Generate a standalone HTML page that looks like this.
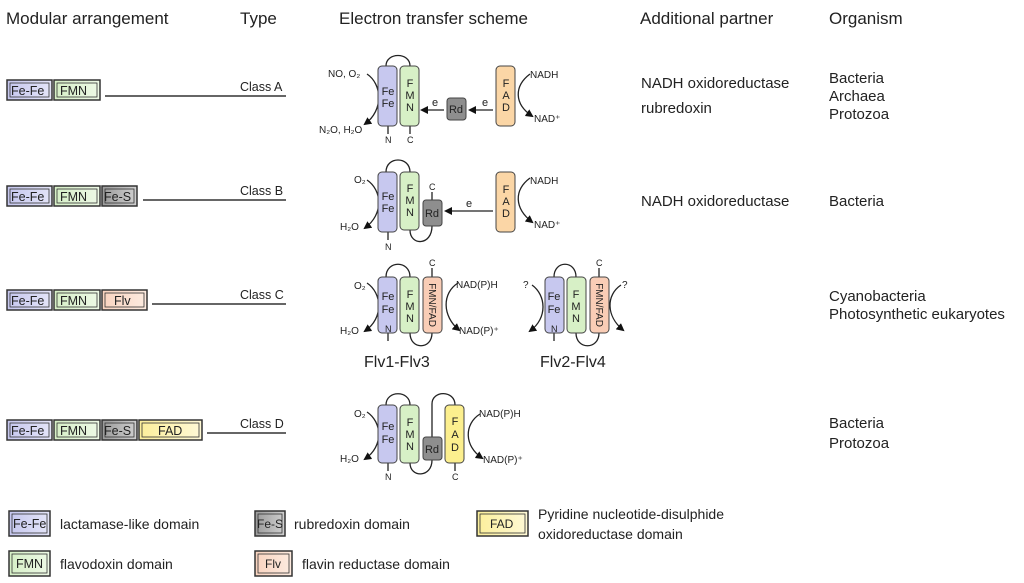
<!DOCTYPE html>
<html><head><meta charset="utf-8"><style>
body{margin:0;background:#fff}
svg{display:block;font-family:"Liberation Sans",sans-serif}
.h{font-size:17px;fill:#222}
.c{font-family:"Liberation Sans",sans-serif;font-size:12.5px;fill:#222}
.t{font-size:15px;fill:#222}
.s{font-size:9px;fill:#222}
.d{font-size:11px;fill:#222}
</style></head><body>
<svg width="1024" height="583" viewBox="0 0 1024 583" xmlns="http://www.w3.org/2000/svg">
<defs>
<linearGradient id="gb" x1="0" x2="1"><stop offset="0" stop-color="#c5c6ee"/><stop offset="1" stop-color="#e4e5f8"/></linearGradient>
<linearGradient id="gg" x1="0" x2="1"><stop offset="0" stop-color="#d5efc6"/><stop offset="1" stop-color="#eef9e6"/></linearGradient>
<linearGradient id="gs" x1="0" x2="1"><stop offset="0" stop-color="#9a9a9a"/><stop offset="1" stop-color="#d0d0d0"/></linearGradient>
<linearGradient id="go" x1="0" x2="1"><stop offset="0" stop-color="#f9d3bf"/><stop offset="1" stop-color="#fdebe0"/></linearGradient>
<linearGradient id="gy" x1="0" x2="1"><stop offset="0" stop-color="#fbef9a"/><stop offset="1" stop-color="#fff9d6"/></linearGradient>
<marker id="ar" markerWidth="8" markerHeight="8" refX="6" refY="4" orient="auto" markerUnits="userSpaceOnUse"><path d="M0,0 L8,4 L0,8 z" fill="#111"/></marker>
</defs>

<text x="6" y="24" class="h">Modular arrangement</text>
<text x="240" y="24" class="h">Type</text>
<text x="339" y="24" class="h">Electron transfer scheme</text>
<text x="640" y="24" class="h">Additional partner</text>
<text x="829" y="24" class="h">Organism</text>

<g stroke="#333" stroke-width="1.5">
<rect x="7" y="80" width="45" height="20" fill="url(#gb)"/><rect x="10" y="83" width="39" height="14" fill="none" stroke-width="0.8"/>
<rect x="54" y="80" width="46" height="20" fill="url(#gg)"/><rect x="57" y="83" width="40" height="14" fill="none" stroke-width="0.8"/>
<line x1="105" y1="96" x2="286" y2="96"/>
<rect x="7" y="186" width="45" height="20" fill="url(#gb)"/><rect x="10" y="189" width="39" height="14" fill="none" stroke-width="0.8"/>
<rect x="54" y="186" width="46" height="20" fill="url(#gg)"/><rect x="57" y="189" width="40" height="14" fill="none" stroke-width="0.8"/>
<rect x="102" y="186" width="35" height="20" fill="url(#gs)"/><rect x="105" y="189" width="29" height="14" fill="none" stroke-width="0.8"/>
<line x1="143" y1="200" x2="286" y2="200"/>
<rect x="7" y="290" width="45" height="20" fill="url(#gb)"/><rect x="10" y="293" width="39" height="14" fill="none" stroke-width="0.8"/>
<rect x="54" y="290" width="46" height="20" fill="url(#gg)"/><rect x="57" y="293" width="40" height="14" fill="none" stroke-width="0.8"/>
<rect x="102" y="290" width="45" height="20" fill="url(#go)"/><rect x="105" y="293" width="39" height="14" fill="none" stroke-width="0.8"/>
<line x1="152" y1="304" x2="286" y2="304"/>
<rect x="7" y="420" width="45" height="20" fill="url(#gb)"/><rect x="10" y="423" width="39" height="14" fill="none" stroke-width="0.8"/>
<rect x="54" y="420" width="46" height="20" fill="url(#gg)"/><rect x="57" y="423" width="40" height="14" fill="none" stroke-width="0.8"/>
<rect x="102" y="420" width="35" height="20" fill="url(#gs)"/><rect x="105" y="423" width="29" height="14" fill="none" stroke-width="0.8"/>
<rect x="139" y="420" width="63" height="20" fill="url(#gy)"/><rect x="142" y="423" width="57" height="14" fill="none" stroke-width="0.8"/>
<line x1="207" y1="433" x2="286" y2="433"/>
<rect x="9" y="511" width="41" height="25" fill="url(#gb)"/><rect x="12" y="514" width="35" height="19" fill="none" stroke-width="0.8"/>
<rect x="9" y="551" width="41" height="25" fill="url(#gg)"/><rect x="12" y="554" width="35" height="19" fill="none" stroke-width="0.8"/>
<rect x="255" y="511" width="30" height="25" fill="url(#gs)"/><rect x="258" y="514" width="24" height="19" fill="none" stroke-width="0.8"/>
<rect x="255" y="551" width="37" height="25" fill="url(#go)"/><rect x="258" y="554" width="31" height="19" fill="none" stroke-width="0.8"/>
<rect x="477" y="511" width="51" height="25" fill="url(#gy)"/><rect x="480" y="514" width="45" height="19" fill="none" stroke-width="0.8"/>
</g>
<g class="c">
<text x="11" y="95">Fe-Fe</text><text x="60" y="95">FMN</text>
<text x="11" y="201">Fe-Fe</text><text x="60" y="201">FMN</text><text x="104" y="201">Fe-S</text>
<text x="11" y="305">Fe-Fe</text><text x="60" y="305">FMN</text><text x="114" y="305">Flv</text>
<text x="11" y="435">Fe-Fe</text><text x="60" y="435">FMN</text><text x="104" y="435">Fe-S</text><text x="158" y="435">FAD</text>
<text x="240" y="91">Class A</text><text x="240" y="195">Class B</text><text x="240" y="299">Class C</text><text x="240" y="428">Class D</text>
<text x="13" y="528">Fe-Fe</text><text x="16" y="568">FMN</text><text x="257" y="528" style="font-size:12px">Fe-S</text><text x="265" y="568" style="font-size:12px">Flv</text><text x="490" y="528" style="font-size:12px">FAD</text>
<text x="60" y="529" style="font-size:14px">lactamase-like domain</text>
<text x="60" y="569" style="font-size:14px">flavodoxin domain</text>
<text x="294" y="529" style="font-size:14px">rubredoxin domain</text>
<text x="302" y="569" style="font-size:14px">flavin reductase domain</text>
<text x="538" y="519" style="font-size:14px">Pyridine nucleotide-disulphide</text>
<text x="538" y="539" style="font-size:14px">oxidoreductase domain</text>
</g>
<g class="t">
<text x="641" y="88">NADH oxidoreductase</text>
<text x="641" y="113">rubredoxin</text>
<text x="641" y="206">NADH oxidoreductase</text>
<text x="829" y="83">Bacteria</text><text x="829" y="101">Archaea</text><text x="829" y="119">Protozoa</text>
<text x="829" y="206">Bacteria</text>
<text x="829" y="301">Cyanobacteria</text><text x="829" y="319">Photosynthetic eukaryotes</text>
<text x="829" y="428">Bacteria</text><text x="829" y="448">Protozoa</text>
<text x="364" y="367" style="font-size:16px">Flv1-Flv3</text>
<text x="540" y="367" style="font-size:16px">Flv2-Flv4</text>
</g>

<g stroke="#222" stroke-width="1.3" fill="none">
<path d="M386,66 C386,52 410,52 410,66"/>
<line x1="388" y1="126" x2="388" y2="134"/><line x1="410" y1="126" x2="410" y2="134"/>
<path d="M367,74 C382,84 384,110 365,124" marker-end="url(#ar)"/>
<path d="M530,74 C514,86 514,104 532,116" marker-end="url(#ar)"/>
<line x1="493" y1="110" x2="470" y2="110" marker-end="url(#ar)"/>
<line x1="444" y1="110" x2="422" y2="110" marker-end="url(#ar)"/>
<path d="M386,172 C386,156 410,156 410,172"/>
<path d="M410,230 C410,246 432,246 432,226"/>
<line x1="432" y1="200" x2="432" y2="192"/>
<line x1="388" y1="232" x2="388" y2="240"/>
<path d="M367,180 C382,190 384,214 365,228" marker-end="url(#ar)"/>
<path d="M530,178 C514,190 514,208 532,222" marker-end="url(#ar)"/>
<line x1="493" y1="211" x2="446" y2="211" marker-end="url(#ar)"/>
<path d="M386,277 C386,260 410,260 410,277"/>
<path d="M410,333 C410,350 432,350 432,333"/>
<line x1="432" y1="277" x2="432" y2="268"/><line x1="388" y1="333" x2="388" y2="341"/>
<path d="M367,283 C382,293 384,318 365,331" marker-end="url(#ar)"/>
<path d="M458,283 C442,293 442,316 459,330" marker-end="url(#ar)"/>
<path d="M554,277 C554,260 576,260 576,277"/>
<path d="M576,333 C576,350 599,350 599,333"/>
<line x1="599" y1="277" x2="599" y2="268"/><line x1="554" y1="333" x2="554" y2="341"/>
<path d="M532,285 C546,295 548,318 530,331" marker-end="url(#ar)"/>
<path d="M621,285 C606,295 606,316 623,330" marker-end="url(#ar)"/>
<path d="M386,405 C386,390 410,390 410,405"/>
<path d="M410,463 C410,478 432,478 432,460"/>
<path d="M432,437 L432,404 C432,390 455,390 455,405"/>
<line x1="388" y1="463" x2="388" y2="471"/><line x1="455" y1="463" x2="455" y2="471"/>
<path d="M367,412 C382,422 384,446 365,459" marker-end="url(#ar)"/>
<path d="M480,414 C464,424 464,446 482,458" marker-end="url(#ar)"/>
</g>
<g stroke="#444" stroke-width="1">
<rect x="378" y="66" width="19" height="60" rx="4" fill="#c7c8ef"/>
<rect x="400" y="66" width="19" height="60" rx="4" fill="#d7f0c6"/>
<rect x="447" y="98" width="19" height="22" rx="3" fill="#8e8e8e"/>
<rect x="496" y="66" width="19" height="60" rx="4" fill="#fbd6a6"/>
<rect x="378" y="172" width="19" height="60" rx="4" fill="#c7c8ef"/>
<rect x="400" y="172" width="19" height="58" rx="4" fill="#d7f0c6"/>
<rect x="423" y="200" width="19" height="26" rx="3" fill="#8e8e8e"/>
<rect x="496" y="172" width="19" height="60" rx="4" fill="#fbd6a6"/>
<rect x="378" y="277" width="19" height="56" rx="4" fill="#c7c8ef"/>
<rect x="400" y="277" width="19" height="56" rx="4" fill="#d7f0c6"/>
<rect x="423" y="277" width="19" height="56" rx="4" fill="#f9cdb6"/>
<rect x="545" y="277" width="19" height="56" rx="4" fill="#c7c8ef"/>
<rect x="567" y="277" width="19" height="56" rx="4" fill="#d7f0c6"/>
<rect x="590" y="277" width="19" height="56" rx="4" fill="#f9cdb6"/>
<rect x="378" y="405" width="19" height="58" rx="4" fill="#c7c8ef"/>
<rect x="400" y="405" width="19" height="58" rx="4" fill="#d7f0c6"/>
<rect x="423" y="437" width="19" height="23" rx="3" fill="#8e8e8e"/>
<rect x="445" y="405" width="19" height="58" rx="4" fill="#fcef8e"/>
</g>
<g class="d" text-anchor="middle">
<text x="388" y="95">Fe</text><text x="388" y="107">Fe</text>
<text x="410" y="87">F</text><text x="410" y="99">M</text><text x="410" y="111">N</text>
<text x="456" y="113">Rd</text>
<text x="506" y="87">F</text><text x="506" y="99">A</text><text x="506" y="111">D</text>
<text x="388" y="200">Fe</text><text x="388" y="212">Fe</text>
<text x="410" y="192">F</text><text x="410" y="204">M</text><text x="410" y="216">N</text>
<text x="432" y="217">Rd</text>
<text x="506" y="193">F</text><text x="506" y="205">A</text><text x="506" y="217">D</text>
<text x="388" y="300">Fe</text><text x="388" y="313">Fe</text>
<text x="410" y="298">F</text><text x="410" y="310">M</text><text x="410" y="322">N</text>
<text x="554" y="300">Fe</text><text x="554" y="313">Fe</text>
<text x="576" y="298">F</text><text x="576" y="310">M</text><text x="576" y="322">N</text>
<text x="388" y="430">Fe</text><text x="388" y="443">Fe</text>
<text x="410" y="426">F</text><text x="410" y="438">M</text><text x="410" y="450">N</text>
<text x="432" y="453">Rd</text>
<text x="455" y="425">F</text><text x="455" y="438">A</text><text x="455" y="451">D</text>
<text transform="translate(429,305) rotate(90)" style="font-size:10px">FMN/FAD</text>
<text transform="translate(596,305) rotate(90)" style="font-size:10px">FMN/FAD</text>
</g>
<g class="s">
<text x="385" y="143">N</text><text x="407" y="143">C</text>
<text x="385" y="250">N</text><text x="429" y="190">C</text>
<text x="385" y="332">N</text><text x="429" y="266">C</text>
<text x="551" y="332">N</text><text x="596" y="266">C</text>
<text x="385" y="480">N</text><text x="452" y="480">C</text>
<text x="328" y="77" style="font-size:10px">NO, O₂</text>
<text x="319" y="133" style="font-size:10px">N₂O, H₂O</text>
<text x="530" y="78" style="font-size:10px">NADH</text>
<text x="534" y="122" style="font-size:10px">NAD⁺</text>
<text x="482" y="106" style="font-size:11px">e</text><text x="432" y="106" style="font-size:11px">e</text>
<text x="354" y="183" style="font-size:10px">O₂</text>
<text x="340" y="230" style="font-size:10px">H₂O</text>
<text x="530" y="184" style="font-size:10px">NADH</text>
<text x="534" y="228" style="font-size:10px">NAD⁺</text>
<text x="466" y="207" style="font-size:11px">e</text>
<text x="354" y="289" style="font-size:10px">O₂</text>
<text x="340" y="334" style="font-size:10px">H₂O</text>
<text x="456" y="288" style="font-size:10px">NAD(P)H</text>
<text x="459" y="334" style="font-size:10px">NAD(P)⁺</text>
<text x="523" y="288" style="font-size:10px">?</text>
<text x="622" y="288" style="font-size:10px">?</text>
<text x="354" y="417" style="font-size:10px">O₂</text>
<text x="340" y="462" style="font-size:10px">H₂O</text>
<text x="479" y="417" style="font-size:10px">NAD(P)H</text>
<text x="483" y="463" style="font-size:10px">NAD(P)⁺</text>
</g>
</svg>
</body></html>
